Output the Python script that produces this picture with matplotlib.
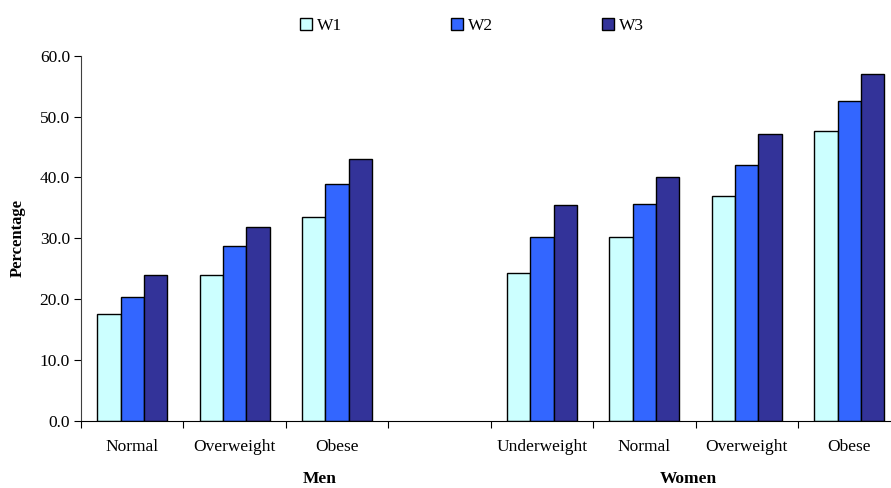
import numpy as np
import matplotlib
matplotlib.use("Agg")
import matplotlib.pyplot as plt
from matplotlib.patches import Patch

plt.rcParams['font.family'] = ['Liberation Serif', 'DejaVu Serif']

categories = ["Normal", "Overweight", "Obese", "",
              "Underweight", "Normal", "Overweight", "Obese"]
series = ["W1", "W2", "W3"]
w1 = [17.5, 23.9, 33.5, np.nan, 24.3, 30.2, 37.0, 47.6]
w2 = [20.3, 28.7, 39.0, np.nan, 30.2, 35.7, 42.0, 52.6]
w3 = [23.9, 31.9, 43.1, np.nan, 35.5, 40.1, 47.1, 57.0]
groups = ["Men", "Women"]
colors = ["#CCFFFF", "#3366FF", "#333399"]

fs = 12.5

fig = plt.figure(figsize=(8.91, 4.88), dpi=100)
# axes runs slightly past the right edge, as in the reference
ax = fig.add_axes([81 / 891, (488 - 421) / 488, 819.4 / 891, 365.3 / 488])

x = np.arange(len(categories))
bw = 0.227
for i, (vals, c, name) in enumerate(zip([w1, w2, w3], colors, series)):
    ax.bar(x + (i - 1) * bw, vals, bw, color=c, edgecolor="black",
           linewidth=1.0, label=name)

ax.set_xlim(-0.5, len(categories) - 0.5)
ax.set_ylim(0, 60)
ax.set_yticks(np.arange(0, 61, 10))
ax.set_yticklabels(["{:.1f}".format(v) for v in np.arange(0, 61, 10)], fontsize=fs)

# ticks sit between categories, labels in the middle
ax.set_xticks(np.arange(-0.5, len(categories), 1.0))
ax.set_xticklabels([])
ax.set_xticks(x, minor=True)
ax.set_xticklabels(categories, minor=True, fontsize=fs)
ax.tick_params(axis="x", which="minor", length=0, pad=13)
ax.tick_params(axis="x", which="major", length=5, direction="out")
ax.tick_params(axis="y", length=5, direction="out", pad=3)

for s in ["top", "right"]:
    ax.spines[s].set_visible(False)
ax.spines["left"].set_color("#404040")
ax.spines["bottom"].set_color("black")

ax.set_ylabel("Percentage", fontsize=fs - 0.5, fontweight="bold", labelpad=10)

ax.text(1.83, -0.16, groups[0], transform=ax.get_xaxis_transform(),
        ha="center", va="center", fontsize=fs, fontweight="bold")
ax.text(5.43, -0.16, groups[1], transform=ax.get_xaxis_transform(),
        ha="center", va="center", fontsize=fs, fontweight="bold")

handles = [Patch(facecolor=c, edgecolor="black", linewidth=1.0, label=n)
           for c, n in zip(colors, series)]
fig.legend(handles=handles, loc="center", bbox_to_anchor=(472 / 891, 1 - 26 / 488),
           ncol=3, frameon=False, fontsize=fs, handlelength=0.65, handleheight=0.65,
           handletextpad=0.3, columnspacing=6.3)

fig.savefig("out.png", dpi=100)
